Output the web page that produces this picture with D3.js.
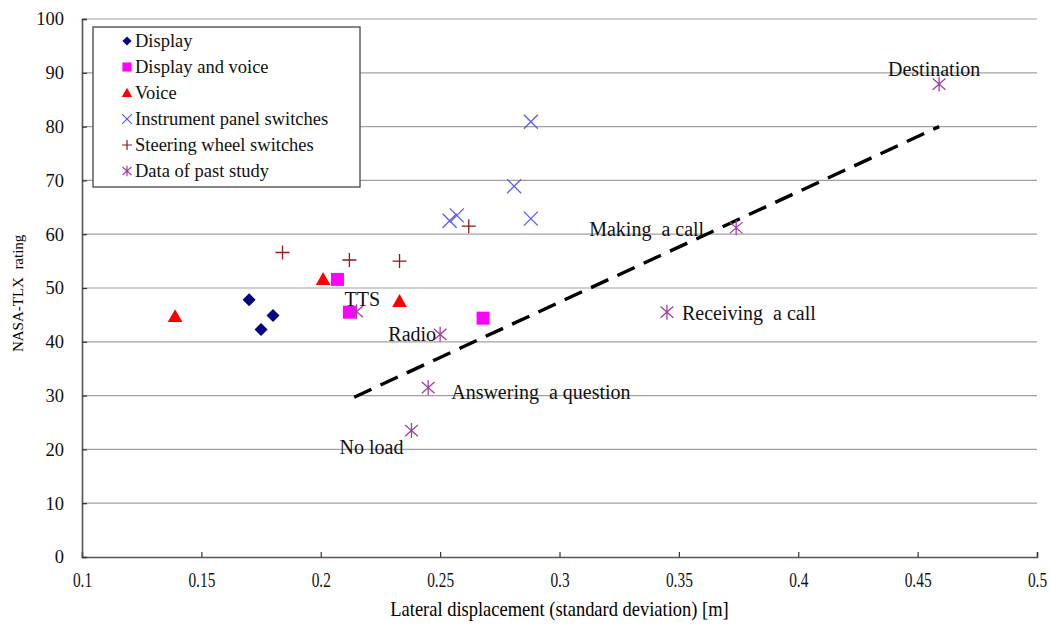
<!DOCTYPE html>
<html>
<head>
<meta charset="utf-8">
<script src="https://cdn.jsdelivr.net/npm/d3@7"></script>
<style>
  body { margin: 0; background: #fff; }
  svg { display: block; font-family: "Liberation Serif", "Times New Roman", serif; }
  text { white-space: pre; }
</style>
</head>
<body>
<svg id="chart" width="1051" height="626"></svg>
<script>
// data: [x, y]
const display = [[0.170, 47.8], [0.180, 44.9], [0.175, 42.3]]
const displayVoice = [[0.207, 51.6], [0.212, 45.5], [0.268, 44.4]]
const voice = [[0.139, 44.7], [0.201, 51.6], [0.233, 47.5]]
const instrumentPanel = [[0.288, 80.9], [0.281, 68.9], [0.288, 62.9], [0.257, 63.5], [0.254, 62.5]]
const steeringWheel = [[0.184, 56.6], [0.212, 55.2], [0.233, 55.0], [0.262, 61.5]]
const pastStudy = [[0.459, 87.9], [0.374, 61.2], [0.345, 45.5], [0.215, 45.6], [0.250, 41.4], [0.245, 31.5], [0.238, 23.5]]
const pastLabels = ['Destination', 'Making  a call', 'Receiving  a call', 'TTS', 'Radio', 'Answering  a question', 'No load']
const trendLine = [[0.214, 29.7], [0.459, 80.0]]
const xTicks = [0.1, 0.15, 0.2, 0.25, 0.3, 0.35, 0.4, 0.45, 0.5]
const yTicks = [0, 10, 20, 30, 40, 50, 60, 70, 80, 90, 100]

const svg = d3.select('#chart')
const margin = {top: 19, right: 14, bottom: 69, left: 82}
const width = 1051, height = 626

const x = d3.scaleLinear().domain([0.1, 0.5]).range([margin.left, width - margin.right])
const y = d3.scaleLinear().domain([0, 100]).range([height - margin.bottom, margin.top])

// gridlines
svg.append('g')
  .selectAll('line')
  .data(yTicks.filter(d => d > 0))
  .join('line')
    .attr('x1', x(0.1)).attr('x2', x(0.5))
    .attr('y1', d => y(d)).attr('y2', d => y(d))
    .attr('stroke', '#a0a0a0').attr('stroke-width', 1.2)

// axes, ticks pointing inward
const xAxis = svg.append('g')
  .attr('transform', 'translate(0,' + y(0) + ')')
  .call(d3.axisBottom(x).tickValues(xTicks).tickSize(-5).tickPadding(0).tickFormat(d => d3.format('')(d)))
const yAxis = svg.append('g')
  .attr('transform', 'translate(' + x(0.1) + ',0)')
  .call(d3.axisLeft(y).tickValues(yTicks).tickSize(-5).tickPadding(18))

for (const ax of [xAxis, yAxis]) {
  ax.select('.domain').attr('stroke', '#555').attr('stroke-width', 1.6)
  ax.selectAll('.tick line').attr('stroke', '#333').attr('stroke-width', 1.2)
  ax.selectAll('.tick text').attr('fill', '#111')
    .attr('font-family', '"Liberation Serif", serif')
}
yAxis.selectAll('.tick text').attr('font-size', 18.5)
// x tick labels look tall and narrow in the original
xAxis.selectAll('.tick text')
  .attr('font-size', 22)
  .attr('y', null).attr('dy', null)
  .attr('transform', 'translate(0,30) scale(0.7,1)')

// axis titles
svg.append('text')
  .attr('transform', 'translate(' + (x(0.1) + x(0.5)) / 2 + ',616) scale(0.88,1)')
  .attr('text-anchor', 'middle').attr('font-size', 21)
  .text('Lateral displacement (standard deviation) [m]')
svg.append('text')
  .attr('transform', 'translate(23,' + y(49) + ') rotate(-90)')
  .attr('text-anchor', 'middle').attr('font-size', 15)
  .text('NASA-TLX  rating')

// regression line
svg.append('line')
  .attr('x1', x(trendLine[0][0])).attr('y1', y(trendLine[0][1]))
  .attr('x2', x(trendLine[1][0])).attr('y2', y(trendLine[1][1]))
  .attr('stroke', '#000').attr('stroke-width', 3.4).attr('stroke-dasharray', '19,10')

// marker shapes
const shapes = {
  diamond: s => `M0,${-s}L${s},0L0,${s}L${-s},0Z`,
  square: s => `M${-s},${-s}H${s}V${s}H${-s}Z`,
  triangle: s => `M0,${-s * 1.05}L${s * 1.05},${s * 0.8}L${-s * 1.05},${s * 0.8}Z`,
  cross: s => `M${-s},${-s}L${s},${s}M${-s},${s}L${s},${-s}`,
  plus: s => `M${-s},0H${s}M0,${-s}V${s}`,
  star: s => `M${-s * 0.85},${-s * 0.75}L${s * 0.85},${s * 0.75}M${-s * 0.85},${s * 0.75}L${s * 0.85},${-s * 0.75}M0,${-s}V${s}`
}

const series = [
  {name: 'Display', data: display, shape: 'diamond', size: 6.5, fill: '#000080', stroke: 'none'},
  {name: 'Display and voice', data: displayVoice, shape: 'square', size: 6.5, fill: '#ff00ff', stroke: 'none'},
  {name: 'Voice', data: voice, shape: 'triangle', size: 7, fill: '#ff0000', stroke: 'none'},
  {name: 'Instrument panel switches', data: instrumentPanel, shape: 'cross', size: 7, fill: 'none', stroke: '#5a5aff'},
  {name: 'Steering wheel switches', data: steeringWheel, shape: 'plus', size: 7, fill: 'none', stroke: '#8b1a1a'},
  {name: 'Data of past study', data: pastStudy, shape: 'star', size: 7.5, fill: 'none', stroke: '#a040a0'}
]

series.forEach(s => {
  svg.append('g')
    .selectAll('path')
    .data(s.data)
    .join('path')
      .attr('transform', d => 'translate(' + x(d[0]) + ',' + y(d[1]) + ')')
      .attr('d', shapes[s.shape](s.size))
      .attr('fill', s.fill)
      .attr('stroke', s.stroke)
      .attr('stroke-width', 1.3)
})

// labels for past study points: dx, dy, anchor
const labelPos = [
  [-5, -8, 'middle'], [-32, 8, 'end'], [15, 8, 'start'], [-12, -6, 'start'],
  [-4, 7, 'end'], [23, 11, 'start'], [-8, 23, 'end']
]
svg.append('g')
  .selectAll('text')
  .data(pastStudy)
  .join('text')
    .attr('x', (d, i) => x(d[0]) + labelPos[i][0])
    .attr('y', (d, i) => y(d[1]) + labelPos[i][1])
    .attr('text-anchor', (d, i) => labelPos[i][2])
    .attr('font-size', 20)
    .attr('fill', '#111')
    .text((d, i) => pastLabels[i])

// legend
const legend = svg.append('g').attr('transform', 'translate(93,27)')
legend.append('rect')
  .attr('width', 267).attr('height', 160)
  .attr('fill', '#fff').attr('stroke', '#444').attr('stroke-width', 1.3)
const item = legend.selectAll('g.item')
  .data(series)
  .join('g')
    .attr('class', 'item')
    .attr('transform', (d, i) => 'translate(34,' + (14 + i * 26) + ')')
item.append('path')
  .attr('d', d => shapes[d.shape](d.size * 0.7))
  .attr('fill', d => d.fill)
  .attr('stroke', d => d.stroke)
  .attr('stroke-width', 1.2)
item.append('text')
  .attr('x', 8).attr('y', 6)
  .attr('font-size', 18.5)
  .attr('fill', '#111')
  .text(d => d.name)
</script>
</body>
</html>
